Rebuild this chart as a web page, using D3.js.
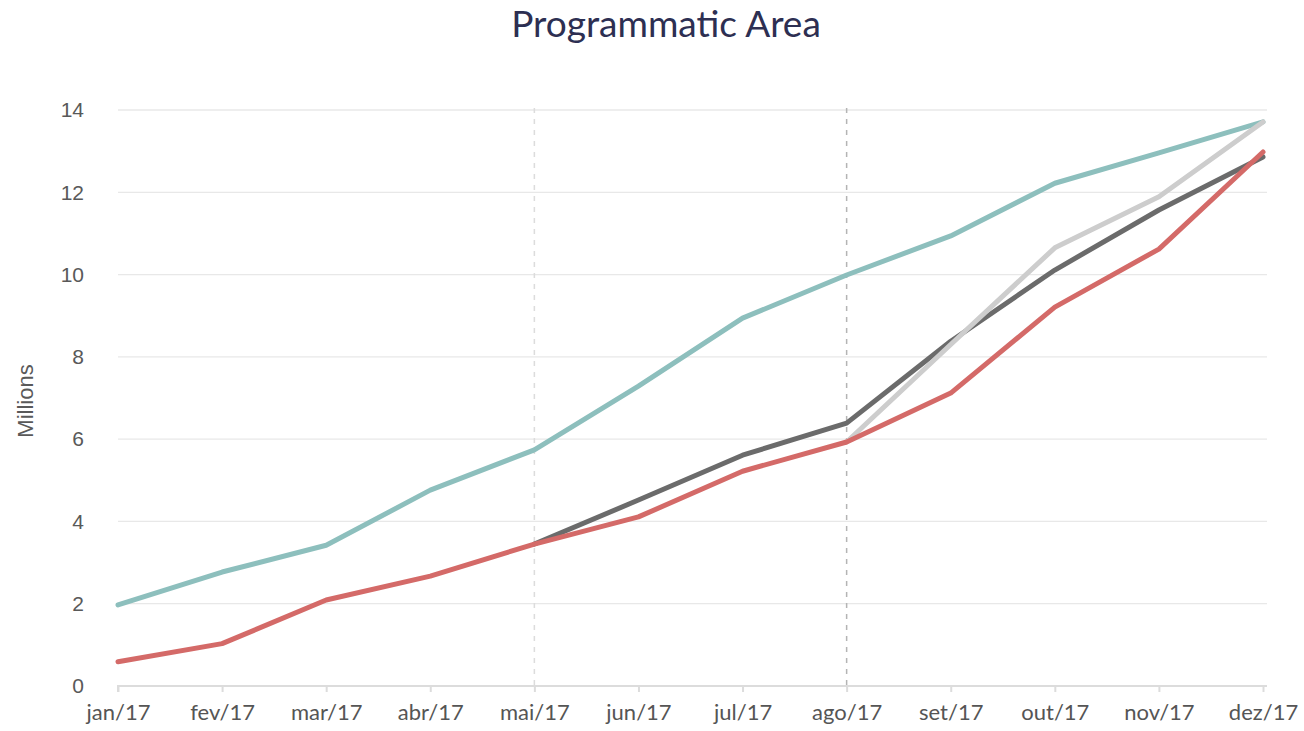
<!DOCTYPE html>
<html>
<head>
<meta charset="utf-8">
<script src="https://cdn.jsdelivr.net/npm/d3@7"></script>
<style>
    html, body { margin: 0; padding: 0; background: #fff; }
    svg { display: block; }
</style>
</head>
<body>
<svg id="chart-container" width="1304" height="731"></svg>
<script>
// months on the x axis
var months = ["jan/17", "fev/17", "mar/17", "abr/17", "mai/17", "jun/17",
              "jul/17", "ago/17", "set/17", "out/17", "nov/17", "dez/17"];

// values in millions (null = no point)
var teal = [1.97, 2.77, 3.42, 4.76, 5.74, 7.29, 8.94, 9.99, 10.94, 12.22, 12.96, 13.71];
var red = [0.59, 1.03, 2.09, 2.67, 3.45, 4.11, 5.22, 5.93, 7.12, 9.21, 10.62, 12.98];
var darkGrey = [null, null, null, null, 3.45, 4.52, 5.61, 6.39, 8.38, 10.11, 11.57, 12.86];
var lightGrey = [null, null, null, null, null, null, null, 5.93, 8.3, 10.65, 11.89, 13.71];

var yTicks = [0, 2, 4, 6, 8, 10, 12, 14];
var markedMonths = ["mai/17", "ago/17"];

var svg = d3.select("#chart-container");

// plot area
var plotLeft = 118, plotRight = 1263, plotTop = 110, plotBottom = 686;

var x = d3.scalePoint()
    .domain(months)
    .range([plotLeft, plotRight]);

var y = d3.scaleLinear()
    .domain([0, 14])
    .range([plotBottom, plotTop]);

// title
svg.append("text")
    .attr("x", 666)
    .attr("y", 37)
    .attr("text-anchor", "middle")
    .attr("font-family", "Lato, 'Open Sans', sans-serif")
    .attr("font-size", 37)
    .attr("fill", "#2d2f52")
    .text("Programmatic Area");

// horizontal grid + y labels
var yAxis = d3.axisLeft(y)
    .tickValues(yTicks)
    .tickSize(0)
    .tickPadding(34);

var gy = svg.append("g")
    .attr("transform", `translate(${plotLeft},0)`)
    .call(yAxis);
gy.select(".domain").remove();
gy.selectAll("text")
    .attr("font-family", "'Liberation Sans', Arial, sans-serif")
    .attr("font-size", 21)
    .attr("fill", "#595959");

svg.append("g")
    .selectAll("line")
    .data(yTicks.filter(d => d > 0))
    .join("line")
        .attr("x1", plotLeft)
        .attr("x2", plotRight + 4)
        .attr("y1", d => y(d))
        .attr("y2", d => y(d))
        .attr("stroke", "#e8e8e8")
        .attr("stroke-width", 1.3);

// y axis title
svg.append("text")
    .attr("transform", "rotate(-90)")
    .attr("x", -401)
    .attr("y", 33)
    .attr("text-anchor", "middle")
    .attr("font-family", "'Liberation Sans', Arial, sans-serif")
    .attr("font-size", 22)
    .attr("fill", "#595959")
    .text("Millions");

// dashed markers
svg.append("g")
    .selectAll("line")
    .data(markedMonths)
    .join("line")
        .attr("x1", d => x(d))
        .attr("x2", d => x(d))
        .attr("y1", plotTop - 2)
        .attr("y2", plotBottom)
        .attr("stroke", (d, i) => i == 0 ? "#dcdcdc" : "#b4b4b4")
        .attr("stroke-width", 1.5)
        .attr("stroke-dasharray", "5,6");

// x axis
var xAxis = d3.axisBottom(x)
    .tickSize(6)
    .tickPadding(12);

var gx = svg.append("g")
    .attr("transform", `translate(0,${plotBottom})`)
    .call(xAxis);
gx.select(".domain")
    .attr("d", `M${plotLeft},6V0H${plotRight + 4}`)
    .attr("stroke", "#dcdcdc")
    .attr("stroke-width", 2);
gx.selectAll(".tick line")
    .attr("stroke", "#dcdcdc")
    .attr("stroke-width", 2);
gx.selectAll("text")
    .attr("font-family", "Lato, 'Open Sans', sans-serif")
    .attr("font-size", 22)
    .attr("fill", "#555");

// lines
var series = [
    { values: teal, color: "#8dbfbd" },
    { values: darkGrey, color: "#6b6b6b" },
    { values: lightGrey, color: "#cdcdcd" },
    { values: red, color: "#d46a68" }
];

var line = d3.line()
    .defined(d => d.v != null)
    .x(d => x(d.m))
    .y(d => y(d.v));

svg.append("g")
    .attr("fill", "none")
    .attr("stroke-width", 5)
    .attr("stroke-linejoin", "round")
    .attr("stroke-linecap", "round")
    .selectAll("path")
    .data(series)
    .join("path")
        .attr("stroke", d => d.color)
        .attr("d", d => line(d.values.map((v, i) => ({ m: months[i], v: v }))));
</script>
</body>
</html>
